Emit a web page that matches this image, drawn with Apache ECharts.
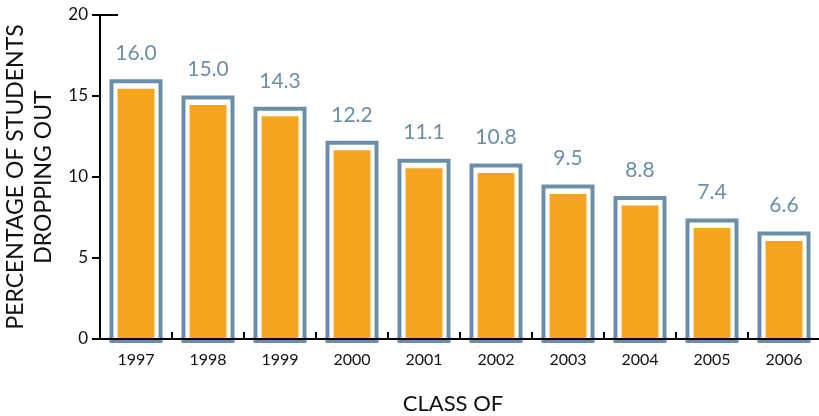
<!DOCTYPE html>
<html><head><meta charset="utf-8">
<script src="https://cdn.jsdelivr.net/npm/echarts@6/dist/echarts.min.js"></script>
<style>html,body{margin:0;padding:0;background:#fff}#c{width:819px;height:416px}</style>
</head><body><div id="c"></div>
<script>
const categories = ['1997','1998','1999','2000','2001','2002','2003','2004','2005','2006'];
const values = [16.0, 15.0, 14.3, 12.2, 11.1, 10.8, 9.5, 8.8, 7.4, 6.6];
const yMin = 0, yMax = 20, yInterval = 5;
const xTitle = 'CLASS OF';
const yTitle = 'PERCENTAGE OF STUDENTS\nDROPPING OUT';

const FONT = 'Lato';
const BLUE = '#6b8fa8';
const ORANGE = '#f7a51e';

const chart = echarts.init(document.getElementById('c'), null, {renderer: 'canvas'});
chart.setOption({
  animation: false,
  backgroundColor: '#fff',
  grid: {left: 100, top: 15, width: 720, bottom: 77, containLabel: false, outerBoundsMode: 'none'},
  xAxis: {
    type: 'category', data: categories,
    axisLine: {lineStyle: {color: '#000', width: 2}},
    axisTick: {show: true, inside: true, length: 7, lineStyle: {color: '#000', width: 2}},
    axisLabel: {color: '#111', fontFamily: FONT, fontSize: 16, margin: 13},
    name: xTitle, nameLocation: 'middle', nameGap: 54,
    nameTextStyle: {color: '#111', fontFamily: FONT, fontSize: 22, padding: [0, 14, 0, 0]}
  },
  yAxis: {
    type: 'value', min: yMin, max: yMax, interval: yInterval,
    splitLine: {show: false},
    axisLine: {show: true, lineStyle: {color: '#000', width: 2}},
    axisTick: {show: true, length: 8, lineStyle: {color: '#000', width: 2}},
    axisLabel: {color: '#111', fontFamily: FONT, fontSize: 17, margin: 12},
    name: yTitle, nameLocation: 'middle', nameGap: 38, nameRotate: 90,
    nameTextStyle: {color: '#111', fontFamily: FONT, fontSize: 23, lineHeight: 28, align: 'center', padding: [0, 0, 0, 0]}
  },
  series: [{
    type: 'custom',
    data: values.map((v, i) => [i, v]),
    encode: {x: 0, y: 1},
    renderItem: function (params, api) {
      const top = api.coord([api.value(0), api.value(1)]);
      const base = api.coord([api.value(0), 0]);
      const cx = top[0];
      const outerW = 49, innerW = 37;
      const ty = top[1] + 1.5;
      return {
        type: 'group',
        children: [
          {type: 'rect', shape: {x: cx - outerW / 2, y: ty, width: outerW, height: base[1] - ty + 2},
           style: {fill: '#fff', stroke: BLUE, lineWidth: 4}},
          {type: 'rect', shape: {x: cx - innerW / 2, y: ty + 7.5, width: innerW, height: base[1] - ty - 7.5},
           style: {fill: ORANGE}},
          {type: 'text', x: cx, y: ty - 28,
           style: {text: api.value(1).toFixed(1), fill: BLUE, fontFamily: FONT, fontSize: 21,
                   align: 'center', verticalAlign: 'middle'}}
        ]
      };
    }
  }]
});
const p20 = chart.convertToPixel({gridIndex: 0}, [0, yMax]);
const p0 = chart.convertToPixel({gridIndex: 0}, [0, yMin]);
chart.setOption({
  graphic: [
    {type: 'line', shape: {x1: 100, y1: p20[1], x2: 118, y2: p20[1]}, style: {stroke: '#000', lineWidth: 2}, z: 100},
    {type: 'line', shape: {x1: 99, y1: p0[1], x2: 819, y2: p0[1]}, style: {stroke: '#000', lineWidth: 2}, z: 100}
  ]
});
</script></body></html>
